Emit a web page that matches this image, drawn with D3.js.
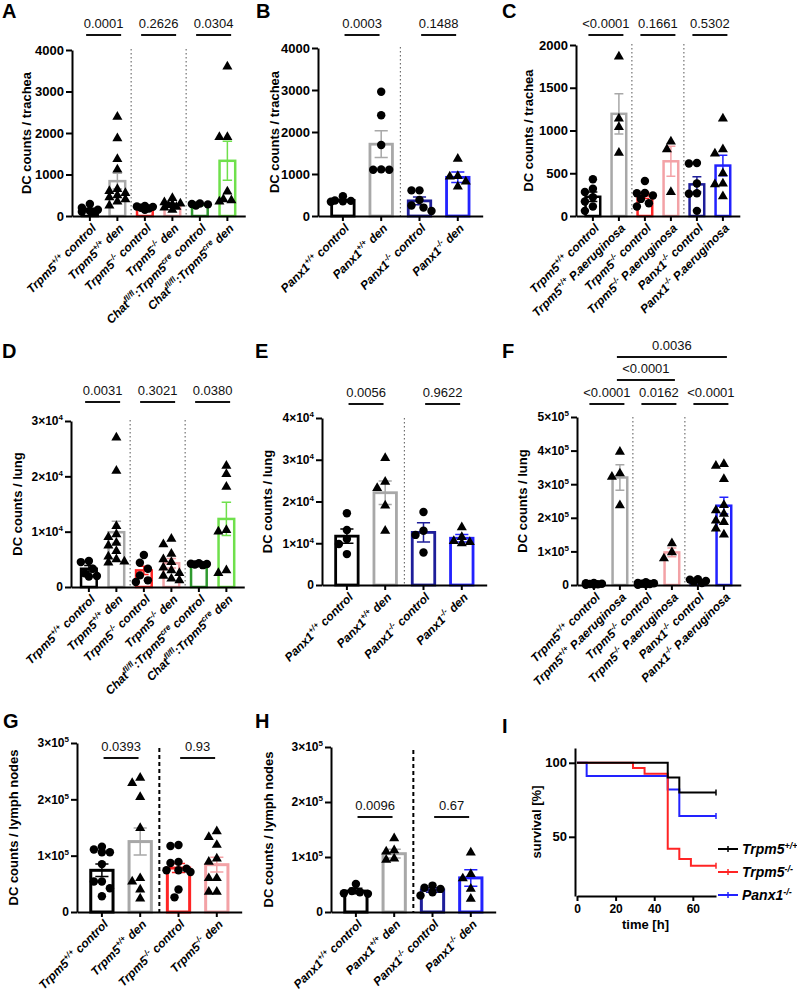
<!DOCTYPE html>
<html><head><meta charset="utf-8">
<script src="https://cdn.jsdelivr.net/npm/d3@7/dist/d3.min.js"></script>
<style>
html,body{margin:0;padding:0;background:#fff;}
svg{display:block;font-family:"Liberation Sans",Arial,Helvetica,sans-serif;}
</style></head>
<body>
<svg id="fig" width="797" height="999" viewBox="0 0 797 999"></svg>
<script>
// ================= DATA =================
// Panel A – DC counts / trachea
const A_categories = ["Trpm5^+/+ control","Trpm5^+/+ den","Trpm5^-/- control","Trpm5^-/- den","Chat^fl/fl:Trpm5^cre control","Chat^fl/fl:Trpm5^cre den"];
const A_means = [150, 840, 195, 255, 270, 1330];
const A_sems  = [35, 190, 20, 40, 15, 470];
const A_points = [[290,200,150,120,100,80],[2390,1870,1370,1120,650,600,550,500,450,400,350,250],[240,230,220,200,180,150],[430,330,300,280,260,220,200,150],[300,290,280,250],[3600,1900,1900,590,400,380,350]];
const A_shapes = ["circle","triangle","circle","triangle","circle","triangle"];
const A_colors = ["black","gray","red","pink","dgreen","lgreen"];
const A_yTicks = [0,1000,2000,3000,4000];
const A_pvalues = [["0.0001",0,1,0],["0.2626",2,3,0],["0.0304",4,5,0]];

// Panel B – DC counts / trachea
const B_categories = ["Panx1^+/+ control","Panx1^+/+ den","Panx1^-/- control","Panx1^-/- den"];
const B_means = [370, 1710, 360, 920];
const B_sems  = [25, 320, 90, 125];
const B_points = [[470,370,360,350,340],[2960,2400,1690,1110,1100,1100],[610,610,380,250,200,120],[1360,950,940,820,700]];
const B_shapes = ["circle","circle","circle","triangle"];
const B_colors = ["black","gray","navy","blue"];
const B_yTicks = [0,1000,2000,3000,4000];
const B_pvalues = [["0.0003",0,1,0],["0.1488",2,3,0]];

// Panel C – DC counts / trachea
const C_categories = ["Trpm5^+/+ control","Trpm5^+/+ P.aeruginosa","Trpm5^-/- control","Trpm5^-/- P.aeruginosa","Panx1^-/- control","Panx1^-/- P.aeruginosa"];
const C_means = [225, 1195, 240, 640, 370, 590];
const C_sems  = [55, 235, 35, 175, 90, 120];
const C_points = [[430,320,280,220,170,110,60],[1865,1140,1040,740],[410,270,265,240,200,150,110],[870,780,280],[620,615,380,265,260,60],[1140,780,730,500,380,370,230]];
const C_shapes = ["circle","triangle","circle","triangle","circle","triangle"];
const C_colors = ["black","gray","red","pink","navy","blue"];
const C_yTicks = [0,500,1000,1500,2000];
const C_pvalues = [["<0.0001",0,1,0],["0.1661",2,3,0],["0.5302",4,5,0]];

// Panel D – DC counts / lung
const D_categories = A_categories;
const D_means = [3300, 9900, 3000, 4300, 4150, 12300];
const D_sems  = [600, 2000, 750, 850, 100, 3000];
const D_points = [[4700,4500,3300,2500,2000,1900],[27000,21000,11000,9500,9000,8000,7500,6500,5500,5000,4600,4400],[5800,4400,3300,2100,1200,900],[8700,7700,6000,5000,4500,3500,3000,2500,2000,1500,1200],[4300,4200,4150,4050,3950],[21900,20400,18100,10300,10000,3000,2500]];
const D_shapes = A_shapes;
const D_colors = A_colors;
const D_yTicks = [0,10000,20000,30000];
const D_pvalues = [["0.0031",0,1,0],["0.3021",2,3,0],["0.0380",4,5,0]];

// Panel E – DC counts / lung
const E_categories = ["Panx1^+/+ control","Panx1^+/+ den","Panx1^-/- control","Panx1^-/- den"];
const E_means = [11700, 22100, 12600, 11200];
const E_sems  = [1700, 2800, 2300, 900];
const E_points = [[17200,13200,11000,9800,7400],[30400,24700,23200,19000,13000],[17500,13000,12000,7800],[13800,11500,10500,10300,10000]];
const E_shapes = ["circle","triangle","circle","triangle"];
const E_colors = ["black","gray","navy","blue"];
const E_yTicks = [0,10000,20000,30000,40000];
const E_pvalues = [["0.0056",0,1,0],["0.9622",2,3,0]];

// Panel F – DC counts / lung
const F_categories = C_categories;
const F_means = [3000, 320000, 4000, 97000, 12000, 236000];
const F_sems  = [800, 38000, 1000, 13000, 2000, 25000];
const F_points = [[6000,5000,4000,3000,2000,1500,1000],[396000,332000,322000,237000],[8000,6000,5000,4000,3000,2000,1000],[124000,97000,79000],[17000,16000,12000,10000,6000],[360000,355000,315000,238000,222000,212000,192000,187000,168000,150000]];
const F_shapes = C_shapes;
const F_colors = C_colors;
const F_yTicks = [0,100000,200000,300000,400000,500000];
const F_pvalues = [["<0.0001",0,1,0],["0.0162",2,3,0],["<0.0001",4,5,0],["<0.0001",1,3,1],["0.0036",1,5,2]];

// Panel G – DC counts / lymph nodes
const G_categories = ["Trpm5^+/+ control","Trpm5^+/+ den","Trpm5^-/- control","Trpm5^-/- den"];
const G_means = [74000, 125000, 78000, 84000];
const G_sems  = [11000, 24000, 8000, 13000];
const G_points = [[116000,111000,106000,106000,85000,54000,54000,42000,28000],[238000,229000,204000,149000,60000,54000,40000,24000],[119000,117000,89000,87000,77000,74000,74000,71000,40000,26000],[143000,133000,119000,95000,89000,60000,60000,36000,36000]];
const G_shapes = ["circle","triangle","circle","triangle"];
const G_colors = ["black","gray","red","pink"];
const G_yTicks = [0,100000,200000,300000];
const G_pvalues = [["0.0393",0,1,0],["0.93",2,3,0]];

// Panel H – DC counts / lymph nodes
const H_categories = ["Panx1^+/+ control","Panx1^+/+ den","Panx1^-/- control","Panx1^-/- den"];
const H_means = [38000, 106000, 40000, 62000];
const H_sems  = [5000, 8000, 4000, 15000];
const H_points = [[51000,38000,36000,34000,33000],[134000,112000,110000,97000,95000],[48000,44000,42000,36000,30000],[108000,69000,61000,42000,24000]];
const H_shapes = ["circle","triangle","circle","triangle"];
const H_colors = ["black","gray","navy","blue"];
const H_yTicks = [0,100000,200000,300000];
const H_pvalues = [["0.0096",0,1,0],["0.67",2,3,0]];

// Panel I – survival
const I_groups = ["Trpm5^+/+","Trpm5^-/-","Panx1^-/-"];
const I_colors = ["black","red","blue"];
const I_times = [[0,47,53,72],[0,29,35,47,53,59,72],[0,5,47,53,72]];
const I_survival = [[100,90,80,80],[100,96.5,92.6,42,35,30.5,30.5],[100,91,82,64,64]];
const I_yTicks = [50,100];
const I_xTicks = [0,20,40,60];

// ================= STYLE =================
const COL = {black:"#000000", gray:"#a8a8a8", red:"#ff2424", pink:"#f3a2a6", dgreen:"#2f9a2f", lgreen:"#6fe04c", navy:"#1e1e9a", blue:"#2222ff"};
const FONT = "Liberation Sans, Arial, Helvetica, sans-serif";
const svg = d3.select("#fig");

function richText(t, str, supSize, shift) {
  const parts = [];
  const re = /\^([^\s:]+)/g;
  let last = 0, m;
  while ((m = re.exec(str))) {
    if (m.index > last) parts.push({t: str.slice(last, m.index), sup: false});
    parts.push({t: m[1], sup: true});
    last = re.lastIndex;
  }
  if (last < str.length) parts.push({t: str.slice(last), sup: false});
  let prev = false;
  parts.forEach(p => {
    const ts = t.append("tspan").text(p.t);
    if (p.sup) { ts.attr("font-size", supSize); if (!prev) ts.attr("dy", -shift); }
    else if (prev) ts.attr("dy", shift);
    prev = p.sup;
  });
}
function sciLabel(t, v) {
  t.text(null);
  if (v === 0) { t.text("0"); return; }
  const e = Math.floor(Math.log10(v) + 1e-9);
  const m = Math.round(v / Math.pow(10, e));
  t.append("tspan").text(m + "\u00d710");
  t.append("tspan").attr("dy", -5).attr("font-size", 8).text(e);
}
function styleAxis(g) {
  g.attr("font-family", FONT);
  g.selectAll(".domain").attr("stroke", "#000").attr("stroke-width", 2);
  g.selectAll(".tick line").attr("stroke", "#000").attr("stroke-width", 2);
  g.selectAll(".tick text").attr("fill", "#000");
}
function swarm(vals, cx, y, d, maxOff) {
  const pts = vals.map(v => ({v, py: y(v)})).sort((a, b) => a.py - b.py);
  const placed = [];
  const cands = [0];
  for (let k = 1; k * d * 0.5 <= maxOff + 0.01; k++) cands.push(-k * d * 0.5, k * d * 0.5);
  pts.forEach(p => {
    let best = 0, bestScore = -1;
    for (const off of cands) {
      const px = cx + off;
      const md = placed.length ? d3.min(placed, q => Math.hypot(q.px - px, q.py - p.py)) : Infinity;
      if (md >= d) { best = off; break; }
      if (md > bestScore) { bestScore = md; best = off; }
    }
    p.px = cx + best; placed.push(p);
  });
  return placed;
}
const SYM = {
  circle: d3.symbol(d3.symbolCircle, 56)(),
  triangle: d3.symbol(d3.symbolTriangle, 44)()
};

function barPanel(cfg) {
  const g = svg.append("g");
  const n = cfg.cats.length;
  const x = d3.scaleBand().domain(cfg.cats)
    .range([cfg.axisX, cfg.axisX + cfg.step * (n + 0.3)])
    .paddingInner(0.34).paddingOuter(0.32);
  const y = d3.scaleLinear().domain([0, cfg.yMax]).range([cfg.y0, cfg.yTop]);
  const cx = c => x(c) + x.bandwidth() / 2;

  // separators
  cfg.seps.forEach(i => {
    const sx = (cx(cfg.cats[i]) + cx(cfg.cats[i + 1])) / 2;
    g.append("line").attr("x1", sx).attr("x2", sx)
      .attr("y1", cfg.sepTop).attr("y2", cfg.y0)
      .attr("stroke", cfg.sepDash ? "#000" : "#555")
      .attr("stroke-width", cfg.sepDash ? 2 : 1)
      .attr("stroke-dasharray", cfg.sepDash ? "4,3" : "1.5,2.5");
  });

  // bars + error bars
  const sw = cfg.barStroke;
  cfg.cats.forEach((c, i) => {
    const col = COL[cfg.colors[i]];
    const top = y(cfg.means[i]);
    g.append("rect").attr("x", x(c) + sw / 2).attr("width", x.bandwidth() - sw)
      .attr("y", top).attr("height", Math.max(0, cfg.y0 - top))
      .attr("fill", "#fff").attr("stroke", col).attr("stroke-width", sw);
  });
  cfg.cats.forEach((c, i) => {
    const col = COL[cfg.colors[i]];
    const lo = y(Math.max(0, cfg.means[i] - cfg.sems[i])), hi = y(cfg.means[i] + cfg.sems[i]);
    const cw = x.bandwidth() * 0.26, xx = cx(c);
    g.append("path")
      .attr("d", `M${xx},${lo}V${hi}M${xx - cw},${hi}H${xx + cw}M${xx - cw},${lo}H${xx + cw}`)
      .attr("stroke", col).attr("stroke-width", 1.5).attr("fill", "none");
  });
  // points
  const maxOff = x.bandwidth() / 2 + 1;
  cfg.cats.forEach((c, i) => {
    swarm(cfg.points[i], cx(c), y, 8, maxOff).forEach(p => {
      g.append("path").attr("d", SYM[cfg.shapes[i]])
        .attr("transform", `translate(${p.px},${p.py})`).attr("fill", "#000");
    });
  });

  // axes
  const yg = g.append("g").attr("transform", `translate(${cfg.axisX},0)`)
    .call(d3.axisLeft(y).tickValues(cfg.yTicks).tickFormat(d3.format("d")).tickSize(6).tickSizeOuter(0).tickPadding(2));
  styleAxis(yg);
  yg.selectAll(".tick text").attr("font-weight", "bold").attr("font-size", cfg.sci ? 12 : 13)
    .each(function (v) { if (cfg.sci) sciLabel(d3.select(this), v); });

  const xg = g.append("g").attr("transform", `translate(0,${cfg.y0})`)
    .call(d3.axisBottom(x).tickSize(5).tickSizeOuter(0).tickFormat(""));
  styleAxis(xg);
  xg.selectAll(".tick text").each(function (c) {
    const t = d3.select(this);
    t.attr("y", 0).attr("x", 0).attr("dy", "0.35em")
      .attr("transform", "translate(4,10) rotate(-45)")
      .attr("text-anchor", "end").attr("font-size", 12)
      .attr("font-weight", "bold").attr("font-style", "italic");
    richText(t, c, 8, 5);
  });

  // p-values
  cfg.pvals.forEach(([lab, i, j, lev]) => {
    const a = cx(cfg.cats[i]), b = cx(cfg.cats[j]);
    const e = (j - i === 1) ? (35 - (b - a)) / 2 : 3;
    const ly = cfg.pLines[lev];
    g.append("line").attr("x1", a - e).attr("x2", b + e).attr("y1", ly).attr("y2", ly)
      .attr("stroke", "#111").attr("stroke-width", 1.8);
    g.append("text").attr("x", (a + b) / 2).attr("y", ly - 7).attr("text-anchor", "middle")
      .attr("font-size", 13).attr("fill", "#111").text(lab);
  });

  // titles
  g.append("text")
    .attr("transform", `translate(${cfg.titleX},${(cfg.yTop + cfg.y0) / 2}) rotate(-90)`)
    .attr("text-anchor", "middle").attr("font-size", 13).attr("font-weight", "bold").text(cfg.title);
  g.append("text").attr("x", cfg.letterPos[0]).attr("y", cfg.letterPos[1])
    .attr("font-size", 20).attr("font-weight", "bold").text(cfg.letter);
}

barPanel({cats:A_categories, means:A_means, sems:A_sems, points:A_points, shapes:A_shapes, colors:A_colors,
  yTicks:A_yTicks, yMax:4000, sci:false, pvals:A_pvalues, seps:[1,3], axisX:72, yTop:50, y0:216, step:27.5,
  pLines:[35], sepTop:49, sepDash:false, barStroke:2.5, title:"DC counts / trachea", titleX:31, letter:"A", letterPos:[2,18]});
barPanel({cats:B_categories, means:B_means, sems:B_sems, points:B_points, shapes:B_shapes, colors:B_colors,
  yTicks:B_yTicks, yMax:4000, sci:false, pvals:B_pvalues, seps:[1], axisX:318, yTop:48, y0:216, step:38.3,
  pLines:[35], sepTop:47, sepDash:false, barStroke:2.8, title:"DC counts / trachea", titleX:279, letter:"B", letterPos:[256,18]});
barPanel({cats:C_categories, means:C_means, sems:C_sems, points:C_points, shapes:C_shapes, colors:C_colors,
  yTicks:C_yTicks, yMax:2000, sci:false, pvals:C_pvalues, seps:[1,3], axisX:576, yTop:45, y0:216, step:26,
  pLines:[35], sepTop:44, sepDash:false, barStroke:2.5, title:"DC counts / trachea", titleX:533, letter:"C", letterPos:[502,18]});

barPanel({cats:D_categories, means:D_means, sems:D_sems, points:D_points, shapes:D_shapes, colors:D_colors,
  yTicks:D_yTicks, yMax:30000, sci:true, pvals:D_pvalues, seps:[1,3], axisX:71, yTop:421, y0:587, step:27.5,
  pLines:[402], sepTop:420, sepDash:false, barStroke:2.5, title:"DC counts / lung", titleX:22, letter:"D", letterPos:[2,358]});
barPanel({cats:E_categories, means:E_means, sems:E_sems, points:E_points, shapes:E_shapes, colors:E_colors,
  yTicks:E_yTicks, yMax:40000, sci:true, pvals:E_pvalues, seps:[1], axisX:322, yTop:418, y0:585, step:38.3,
  pLines:[404], sepTop:418, sepDash:false, barStroke:2.8, title:"DC counts / lung", titleX:272, letter:"E", letterPos:[255,358]});
barPanel({cats:F_categories, means:F_means, sems:F_sems, points:F_points, shapes:F_shapes, colors:F_colors,
  yTicks:F_yTicks, yMax:500000, sci:true, pvals:F_pvalues, seps:[1,3], axisX:577, yTop:417, y0:585, step:26,
  pLines:[404,380,357], sepTop:417, sepDash:false, barStroke:2.5, title:"DC counts / lung", titleX:527, letter:"F", letterPos:[502,358]});

barPanel({cats:G_categories, means:G_means, sems:G_sems, points:G_points, shapes:G_shapes, colors:G_colors,
  yTicks:G_yTicks, yMax:300000, sci:true, pvals:G_pvalues, seps:[1], axisX:77, yTop:743, y0:912, step:38.3,
  pLines:[758], sepTop:748, sepDash:true, barStroke:3, title:"DC counts / lymph nodes", titleX:18, letter:"G", letterPos:[3,728]});
barPanel({cats:H_categories, means:H_means, sems:H_sems, points:H_points, shapes:H_shapes, colors:H_colors,
  yTicks:H_yTicks, yMax:300000, sci:true, pvals:H_pvalues, seps:[1], axisX:331, yTop:747, y0:912, step:38.3,
  pLines:[817], sepTop:750, sepDash:true, barStroke:3, title:"DC counts / lymph nodes", titleX:273, letter:"H", letterPos:[255,728]});

// ================= PANEL I =================
(function () {
  const g = svg.append("g");
  const axisX = 575, axisY = 896, xEnd = 716;
  const x = d3.scaleLinear().domain([0, 72]).range([axisX + 2, xEnd]);
  const y = d3.scaleLinear().domain([10, 110]).range([axisY, 748]);
  const line = d3.line().curve(d3.curveStepAfter).x(d => x(d[0])).y(d => y(d[1]));
  [2, 1, 0].forEach(k => {
    const col = COL[I_colors[k]];
    const data = I_times[k].map((t, i) => [t, I_survival[k][i]]);
    g.append("path").attr("d", line(data)).attr("fill", "none").attr("stroke", col).attr("stroke-width", 2);
    const last = data[data.length - 1];
    g.append("line").attr("x1", x(last[0])).attr("x2", x(last[0]))
      .attr("y1", y(last[1]) - 3).attr("y2", y(last[1]) + 3).attr("stroke", col).attr("stroke-width", 1.5);
  });
  const yg = g.append("g").attr("transform", `translate(${axisX},0)`)
    .call(d3.axisLeft(y).tickValues(I_yTicks).tickSize(6).tickSizeOuter(0).tickPadding(2));
  styleAxis(yg);
  yg.selectAll(".tick text").attr("font-weight", "bold").attr("font-size", 13);
  const xg = g.append("g").attr("transform", `translate(0,${axisY})`)
    .call(d3.axisBottom(x).tickValues(I_xTicks).tickSize(5).tickSizeOuter(0).tickPadding(3));
  styleAxis(xg);
  xg.selectAll(".tick text").attr("font-weight", "bold").attr("font-size", 12);
  g.append("text").attr("x", (axisX + xEnd) / 2).attr("y", axisY + 33).attr("text-anchor", "middle")
    .attr("font-size", 13).attr("font-weight", "bold").text("time [h]");
  g.append("text").attr("transform", `translate(541,${(748 + axisY) / 2}) rotate(-90)`)
    .attr("text-anchor", "middle").attr("font-size", 13).attr("font-weight", "bold").text("survival [%]");
  g.append("text").attr("x", 502).attr("y", 733).attr("font-size", 20).attr("font-weight", "bold").text("I");
  // legend
  I_groups.forEach((lab, k) => {
    const ly = 849 + k * 23;
    const col = COL[I_colors[k]];
    g.append("line").attr("x1", 718).attr("x2", 738).attr("y1", ly).attr("y2", ly).attr("stroke", col).attr("stroke-width", 2);
    g.append("line").attr("x1", 728).attr("x2", 728).attr("y1", ly - 3).attr("y2", ly + 3).attr("stroke", col).attr("stroke-width", 1.5);
    const t = g.append("text").attr("x", 742).attr("y", ly + 5).attr("font-size", 14)
      .attr("font-weight", "bold").attr("font-style", "italic");
    richText(t, lab, 9, 5);
  });
})();
</script>
</body></html>
